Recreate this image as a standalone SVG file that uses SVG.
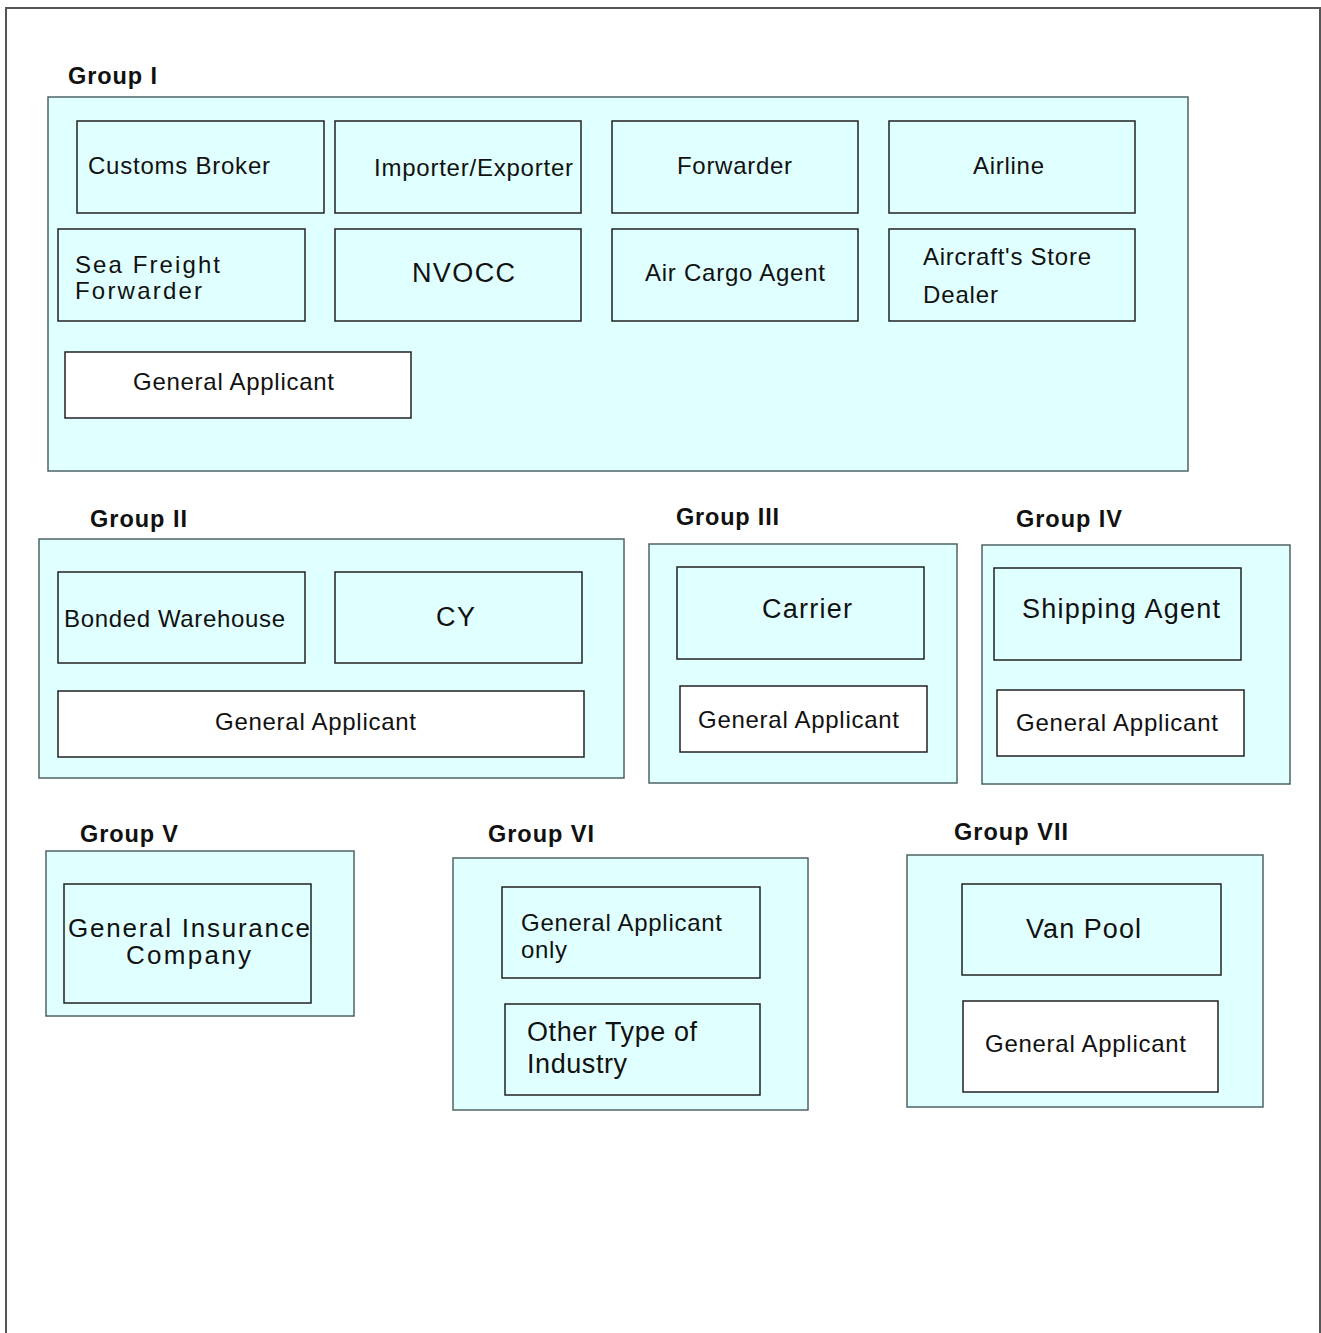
<svg xmlns="http://www.w3.org/2000/svg" width="1321" height="1333" viewBox="0 0 1321 1333">
<style>
.frame{fill:#fff;stroke:#555;stroke-width:2}
.grp{fill:#e0ffff;stroke:#4f6464;stroke-width:1.5}
.box{fill:#e0ffff;stroke:#222;stroke-width:1.5}
.wbox{fill:#fff;stroke:#222;stroke-width:1.5}
.t{font-family:"Liberation Sans",Arial,sans-serif;font-size:24px;fill:#111}
.tb{font-family:"Liberation Sans",Arial,sans-serif;font-size:23.5px;font-weight:bold;fill:#111}
.big{font-size:27px}
.ins{font-size:26px}
</style>
<rect class="frame" x="6" y="8" width="1314" height="1340"/>
<g id="group1">
<text class="tb" x="68" y="84" textLength="89">Group I</text>
<rect class="grp" x="48" y="97" width="1140" height="374"/>
</g>
<g id="customs-broker"><rect class="box" x="77" y="121" width="247" height="92"/><text class="t" x="88" y="174" textLength="182">Customs Broker</text></g>
<g id="importer-exporter"><rect class="box" x="335" y="121" width="246" height="92"/><text class="t" x="374" y="176" textLength="199">Importer/Exporter</text></g>
<g id="forwarder"><rect class="box" x="612" y="121" width="246" height="92"/><text class="t" x="677" y="174" textLength="115">Forwarder</text></g>
<g id="airline"><rect class="box" x="889" y="121" width="246" height="92"/><text class="t" x="973" y="174" textLength="71">Airline</text></g>
<g id="sea-freight-forwarder"><rect class="box" x="58" y="229" width="247" height="92"/><text class="t" x="75" y="273" textLength="145">Sea Freight</text><text class="t" x="75" y="299" textLength="127">Forwarder</text></g>
<g id="nvocc"><rect class="box" x="335" y="229" width="246" height="92"/><text class="t big" x="412" y="282" textLength="103">NVOCC</text></g>
<g id="air-cargo-agent"><rect class="box" x="612" y="229" width="246" height="92"/><text class="t" x="645" y="281" textLength="180">Air Cargo Agent</text></g>
<g id="aircraft-store-dealer"><rect class="box" x="889" y="229" width="246" height="92"/><text class="t" x="923" y="265" textLength="168">Aircraft's Store</text><text class="t" x="923" y="303" textLength="75">Dealer</text></g>
<g id="general-applicant-1"><rect class="wbox" x="65" y="352" width="346" height="66"/><text class="t" x="133" y="390" textLength="201">General Applicant</text></g>

<g id="group2">
<text class="tb" x="90" y="527" textLength="97">Group II</text>
<rect class="grp" x="39" y="539" width="585" height="239"/>
</g>
<g id="bonded-warehouse"><rect class="box" x="58" y="572" width="247" height="91"/><text class="t" x="64" y="627" textLength="221">Bonded Warehouse</text></g>
<g id="cy"><rect class="box" x="335" y="572" width="247" height="91"/><text class="t big" x="436" y="626" textLength="39">CY</text></g>
<g id="general-applicant-2"><rect class="wbox" x="58" y="691" width="526" height="66"/><text class="t" x="215" y="730" textLength="201">General Applicant</text></g>

<g id="group3">
<text class="tb" x="676" y="525" textLength="103">Group III</text>
<rect class="grp" x="649" y="544" width="308" height="239"/>
</g>
<g id="carrier"><rect class="box" x="677" y="567" width="247" height="92"/><text class="t big" x="762" y="618" textLength="90">Carrier</text></g>
<g id="general-applicant-3"><rect class="wbox" x="680" y="686" width="247" height="66"/><text class="t" x="698" y="728" textLength="201">General Applicant</text></g>

<g id="group4">
<text class="tb" x="1016" y="527" textLength="106">Group IV</text>
<rect class="grp" x="982" y="545" width="308" height="239"/>
</g>
<g id="shipping-agent"><rect class="box" x="994" y="568" width="247" height="92"/><text class="t big" x="1022" y="618" textLength="198">Shipping Agent</text></g>
<g id="general-applicant-4"><rect class="wbox" x="997" y="690" width="247" height="66"/><text class="t" x="1016" y="731" textLength="202">General Applicant</text></g>

<g id="group5">
<text class="tb" x="80" y="842" textLength="98">Group V</text>
<rect class="grp" x="46" y="851" width="308" height="165"/>
</g>
<g id="general-insurance-company"><rect class="box" x="64" y="884" width="247" height="119"/><text class="t ins" x="68" y="937" textLength="242">General Insurance</text><text class="t ins" x="126" y="964" textLength="125">Company</text></g>

<g id="group6">
<text class="tb" x="488" y="842" textLength="106">Group VI</text>
<rect class="grp" x="453" y="858" width="355" height="252"/>
</g>
<g id="general-applicant-only"><rect class="box" x="502" y="887" width="258" height="91"/><text class="t" x="521" y="931" textLength="201">General Applicant</text><text class="t" x="521" y="958" textLength="46">only</text></g>
<g id="other-type-of-industry"><rect class="box" x="505" y="1004" width="255" height="91"/><text class="t big" x="527" y="1041" textLength="170">Other Type of</text><text class="t big" x="527" y="1073" textLength="100">Industry</text></g>

<g id="group7">
<text class="tb" x="954" y="840" textLength="114">Group VII</text>
<rect class="grp" x="907" y="855" width="356" height="252"/>
</g>
<g id="van-pool"><rect class="box" x="962" y="884" width="259" height="91"/><text class="t big" x="1026" y="938" textLength="115">Van Pool</text></g>
<g id="general-applicant-7"><rect class="wbox" x="963" y="1001" width="255" height="91"/><text class="t" x="985" y="1052" textLength="201">General Applicant</text></g>
<g id="connectors"/>
</svg>
